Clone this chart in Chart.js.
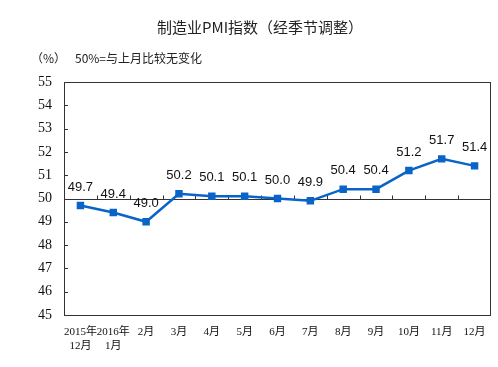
<!DOCTYPE html>
<html>
<head>
<meta charset="utf-8">
<script src="https://cdn.jsdelivr.net/npm/chart.js@4"></script>
<style>
  html, body { margin: 0; padding: 0; background: #fff; }
  #wrap { width: 498px; height: 367px; }
</style>
</head>
<body>
<div id="wrap"><canvas id="pmiChart" width="498" height="367"></canvas></div>
<script>
// chart data
const months = [
    ['2015年', '12月'], ['2016年', '1月'], '2月', '3月', '4月', '5月',
    '6月', '7月', '8月', '9月', '10月', '11月', '12月'
];
const pmiValues = [49.7, 49.4, 49.0, 50.2, 50.1, 50.1, 50.0, 49.9, 50.4, 50.4, 51.2, 51.7, 51.4];
const yTicks = [45, 46, 47, 48, 49, 50, 51, 52, 53, 54, 55];

const titleText = '制造业PMI指数（经季节调整）';
const unitText = '（%）';
const noteText = '50%=与上月比较无变化';

const lineColor = '#0a64c8';
const serif = '"Liberation Serif", "Times New Roman", "Noto Sans CJK SC", serif';

// frame, 50 baseline, inside ticks, value labels and header texts
const decorPlugin = {
    id: 'decor',
    beforeDatasetsDraw(chart) {
        const { ctx, chartArea: a, scales } = chart;
        const y50 = Math.round(scales.y.getPixelForValue(50)) + 0.5;
        ctx.save();
        ctx.strokeStyle = '#333';
        ctx.lineWidth = 1;
        ctx.strokeRect(a.left + 0.5, a.top + 0.5, a.right - a.left - 1, a.bottom - a.top);

        // y ticks pointing inward
        yTicks.forEach(v => {
            const y = Math.round(scales.y.getPixelForValue(v)) + 0.5;
            ctx.beginPath();
            ctx.moveTo(a.left, y);
            ctx.lineTo(a.left + 4, y);
            ctx.stroke();
        });

        // 50 line acting as category axis
        ctx.beginPath();
        ctx.moveTo(a.left, y50);
        ctx.lineTo(a.right, y50);
        ctx.stroke();

        const step = (a.right - a.left) / months.length;
        for (let i = 1; i < months.length; i++) {
            const x = Math.round(a.left + step * i) + 0.5;
            ctx.beginPath();
            ctx.moveTo(x, y50 - 4);
            ctx.lineTo(x, y50);
            ctx.stroke();
        }
        ctx.restore();
    },
    afterDraw(chart) {
        const { ctx } = chart;
        const meta = chart.getDatasetMeta(0);
        ctx.save();
        ctx.fillStyle = '#111';
        ctx.font = '13px "Liberation Sans", Arial, sans-serif';
        ctx.textAlign = 'center';
        ctx.textBaseline = 'bottom';
        meta.data.forEach((pt, i) => {
            ctx.fillText(pmiValues[i].toFixed(1), pt.x, pt.y - 12);
        });

        ctx.fillStyle = '#222';
        ctx.font = '15px "Noto Sans CJK SC", sans-serif';
        ctx.textBaseline = 'middle';
        ctx.fillText(titleText, 260, 27);

        ctx.font = '12px "Noto Sans CJK SC", sans-serif';
        ctx.textAlign = 'left';
        ctx.fillText(unitText, 31, 58);
        ctx.fillText(noteText, 75, 58);
        ctx.restore();
    }
};

new Chart(document.getElementById('pmiChart').getContext('2d'), {
    type: 'line',
    data: {
        labels: months,
        datasets: [{
            data: pmiValues,
            borderColor: lineColor,
            backgroundColor: lineColor,
            borderWidth: 2.5,
            pointStyle: 'rect',
            pointRadius: 3.5,
            pointHoverRadius: 3.5,
            tension: 0
        }]
    },
    options: {
        responsive: false,
        animation: false,
        events: [],
        layout: { padding: { left: 0, right: 7, top: 82, bottom: 0 } },
        plugins: {
            legend: { display: false },
            tooltip: { enabled: false }
        },
        scales: {
            x: {
                offset: true,
                grid: { display: false, drawTicks: false },
                border: { display: false },
                ticks: {
                    autoSkip: false,
                    maxRotation: 0,
                    padding: 11,
                    color: '#111',
                    font: { family: serif, size: 11 }
                },
                afterFit: s => { s.height = 52; }
            },
            y: {
                min: 45,
                max: 55,
                afterBuildTicks: s => { s.ticks = yTicks.map(v => ({ value: v })); },
                grid: { display: false, drawTicks: false },
                border: { display: false },
                ticks: {
                    padding: 12,
                    color: '#111',
                    font: { family: serif, size: 14 }
                },
                afterFit: s => { s.width = 64; }
            }
        }
    },
    plugins: [decorPlugin]
});
</script>
</body>
</html>
